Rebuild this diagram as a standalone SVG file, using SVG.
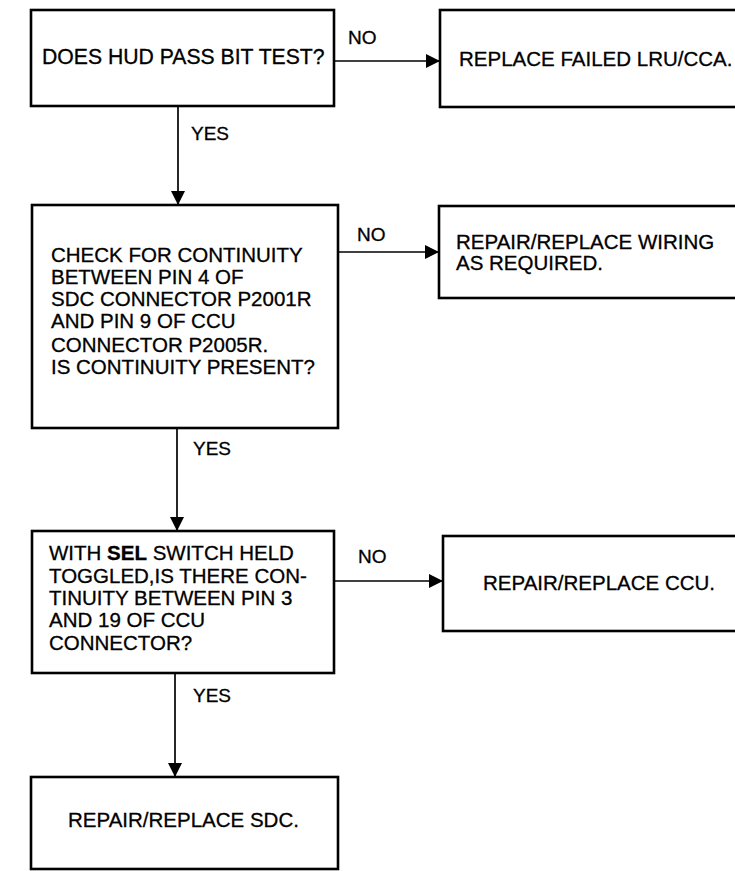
<svg xmlns="http://www.w3.org/2000/svg" width="735" height="871" viewBox="0 0 735 871">
<style>
.box{fill:#fff;stroke:#000;stroke-width:2.6}
.t{font-family:"Liberation Sans",Arial,sans-serif;font-size:20.5px;fill:#000;stroke:#000;stroke-width:0.3}
.lbl{font-family:"Liberation Sans",Arial,sans-serif;font-size:19px;fill:#000;stroke:#000;stroke-width:0.3}
.c{fill:none;stroke:#000;stroke-width:1.7}
</style>
<defs>
<marker id="ah" markerUnits="userSpaceOnUse" markerWidth="16" markerHeight="16" viewBox="0 0 16 16" refX="15" refY="8" orient="auto">
<path d="M1,1 L15,8 L1,15 Z" fill="#000"/>
</marker>
</defs>
<rect width="735" height="871" fill="#fff"/>
<g id="connectors">
<path class="c" d="M334,61 H440" marker-end="url(#ah)"/>
<path class="c" d="M178,106 V205" marker-end="url(#ah)"/>
<path class="c" d="M338,252 H439" marker-end="url(#ah)"/>
<path class="c" d="M177,428 V531" marker-end="url(#ah)"/>
<path class="c" d="M334,581 H443" marker-end="url(#ah)"/>
<path class="c" d="M175,673 V777" marker-end="url(#ah)"/>
<text class="lbl" x="348" y="44">NO</text>
<text class="lbl" x="191" y="140">YES</text>
<text class="lbl" x="357" y="241">NO</text>
<text class="lbl" x="193" y="455">YES</text>
<text class="lbl" x="358" y="563">NO</text>
<text class="lbl" x="193" y="702">YES</text>
</g>
<g id="n1">
<rect class="box" x="31" y="10" width="303" height="96"/>
<text class="t" x="42" y="64" style="font-size:21.2px">DOES HUD PASS BIT TEST?</text>
</g>
<g id="n2">
<rect class="box" x="440" y="10" width="310" height="97"/>
<text class="t" x="459" y="66">REPLACE FAILED LRU/CCA.</text>
</g>
<g id="n3">
<rect class="box" x="32" y="205" width="306" height="223"/>
<text class="t" x="51" y="262">CHECK FOR CONTINUITY</text>
<text class="t" x="51" y="284">BETWEEN PIN 4 OF</text>
<text class="t" x="51" y="306">SDC CONNECTOR P2001R</text>
<text class="t" x="51" y="328">AND PIN 9 OF CCU</text>
<text class="t" x="51" y="352">CONNECTOR P2005R.</text>
<text class="t" x="51" y="374">IS CONTINUITY PRESENT?</text>
</g>
<g id="n4">
<rect class="box" x="439" y="206" width="311" height="92"/>
<text class="t" x="456" y="249">REPAIR/REPLACE WIRING</text>
<text class="t" x="456" y="270">AS REQUIRED.</text>
</g>
<g id="n5">
<rect class="box" x="32" y="531" width="302" height="142"/>
<text class="t" x="49" y="560">WITH <tspan font-weight="bold">SEL</tspan> SWITCH HELD</text>
<text class="t" x="49" y="583">TOGGLED,IS THERE CON-</text>
<text class="t" x="49" y="605">TINUITY BETWEEN PIN 3</text>
<text class="t" x="49" y="627">AND 19 OF CCU</text>
<text class="t" x="49" y="650">CONNECTOR?</text>
</g>
<g id="n6">
<rect class="box" x="443" y="536" width="307" height="95"/>
<text class="t" x="483" y="590">REPAIR/REPLACE CCU.</text>
</g>
<g id="n7">
<rect class="box" x="31" y="777" width="307" height="92"/>
<text class="t" x="68" y="827">REPAIR/REPLACE SDC.</text>
</g>
</svg>
